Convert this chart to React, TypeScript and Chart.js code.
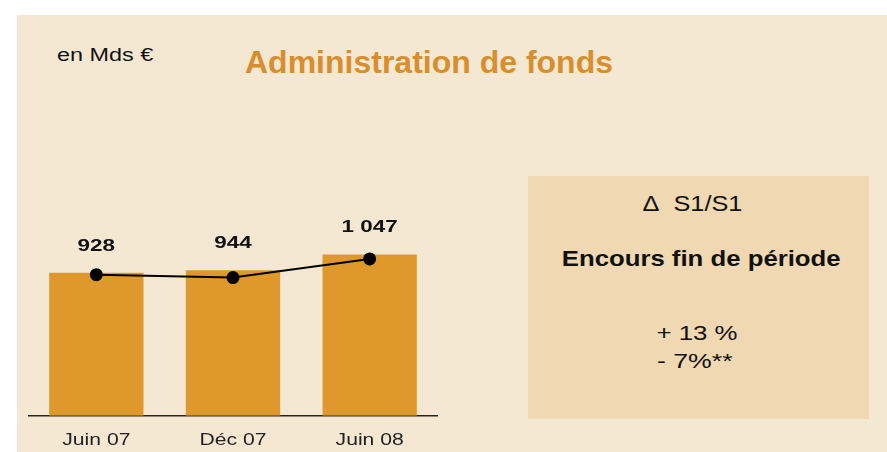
import React, { useEffect, useRef } from "react";
import { Chart, registerables } from "chart.js";

Chart.register(...registerables);

const categories = ["Juin 07", "Déc 07", "Juin 08"];
const barValues = [928, 944, 1047];
const lineValues = [916, 897, 1018];
const yMin = 0;
const yMax = 2050;

const FONT = '"Liberation Sans", Arial, Helvetica, sans-serif';

function fmt(v: number): string {
  const s = String(Math.round(v));
  return s.replace(/\B(?=(\d{3})+(?!\d))/g, " ");
}

const labelPlugin = {
  id: "valueLabels",
  afterDatasetsDraw(chart: any) {
    const ctx = chart.ctx;
    const meta = chart.getDatasetMeta(0);
    meta.data.forEach((el: any, i: number) => {
      ctx.save();
      ctx.font = `bold 17px ${FONT}`;
      ctx.fillStyle = "#111";
      ctx.textAlign = "center";
      ctx.textBaseline = "alphabetic";
      ctx.translate(el.x, el.y - 22);
      ctx.scale(1.32, 1);
      ctx.fillText(fmt(barValues[i]), 0, 0);
      ctx.restore();
    });
  },
  afterDraw(chart: any) {
    const ctx = chart.ctx;
    const xs = chart.scales.x;
    const bottom = chart.chartArea.bottom;
    categories.forEach((c, i) => {
      ctx.save();
      ctx.font = `16px ${FONT}`;
      ctx.fillStyle = "#222";
      ctx.textAlign = "center";
      ctx.textBaseline = "alphabetic";
      ctx.translate(xs.getPixelForValue(i), bottom + 29);
      ctx.scale(1.32, 1);
      ctx.fillText(c, 0, 0);
      ctx.restore();
    });
  },
};

function T({
  children,
  style,
  sx = 1,
  origin = "center",
}: {
  children: React.ReactNode;
  style: React.CSSProperties;
  sx?: number;
  origin?: string;
}) {
  return (
    <div
      style={{
        position: "absolute",
        whiteSpace: "nowrap",
        lineHeight: 1,
        fontFamily: FONT,
        ...style,
      }}
    >
      <span
        style={{
          display: "inline-block",
          transform: `scaleX(${sx})`,
          transformOrigin: origin,
        }}
      >
        {children}
      </span>
    </div>
  );
}

export default function App() {
  const ref = useRef<HTMLCanvasElement | null>(null);

  useEffect(() => {
    if (!ref.current) return;
    const chart = new Chart(ref.current, {
      type: "bar",
      data: {
        labels: categories,
        datasets: [
          {
            type: "bar",
            data: barValues,
            backgroundColor: "#DE982C",
            borderWidth: 0,
            barPercentage: 0.69,
            categoryPercentage: 1,
            order: 1,
          },
          {
            type: "line",
            data: lineValues,
            borderColor: "#000",
            borderWidth: 2,
            pointRadius: 5.5,
            pointBackgroundColor: "#000",
            pointBorderColor: "#000",
            tension: 0,
            order: 0,
          } as any,
        ],
      },
      options: {
        responsive: false,
        maintainAspectRatio: false,
        animation: false,
        layout: { autoPadding: false, padding: { top: 0, left: 0, right: 0, bottom: 36.3 } },
        plugins: {
          legend: { display: false },
          tooltip: { enabled: false },
          title: { display: false },
        },
        scales: {
          x: {
            grid: { display: false, drawTicks: false },
            border: { display: true, color: "#222", width: 1.5 },
            ticks: { display: false },
          },
          y: {
            display: false,
            min: yMin,
            max: yMax,
          },
        },
      },
      plugins: [labelPlugin],
    });
    return () => chart.destroy();
  }, []);

  return (
    <div
      style={{
        position: "fixed",
        left: 0,
        top: 0,
        width: 887,
        height: 452,
        background: "#fff",
        overflow: "hidden",
      }}
    >
      <div
        style={{
          position: "absolute",
          left: 17,
          top: 15,
          width: 870,
          height: 437,
          background: "#F5E8D3",
        }}
      />
      <T style={{ left: 57, top: 46, fontSize: 18, color: "#111" }} sx={1.3} origin="left">
        en Mds €
      </T>
      <T
        style={{ left: 245, top: 45.5, fontSize: 32, fontWeight: "bold", color: "#D88E2C" }}
        origin="left"
      >
        Administration de fonds
      </T>
      <div
        style={{
          position: "absolute",
          left: 528,
          top: 176,
          width: 341,
          height: 243,
          background: "#F0D8B2",
        }}
      />
      <T style={{ left: 542, width: 300, textAlign: "center", top: 193, fontSize: 22, color: "#111" }} sx={1.15}>
        Δ&nbsp;&nbsp;S1/S1
      </T>
      <T
        style={{ left: 501, width: 400, textAlign: "center", top: 248, fontSize: 22, fontWeight: "bold", color: "#111" }}
        sx={1.17}
      >
        Encours fin de période
      </T>
      <T style={{ left: 597, width: 200, textAlign: "center", top: 322, fontSize: 21, color: "#111" }} sx={1.23}>
        + 13 %
      </T>
      <T style={{ left: 595, width: 200, textAlign: "center", top: 350, fontSize: 21, color: "#111" }} sx={1.27}>
        - 7%**
      </T>
      <canvas
        ref={ref}
        width={410}
        height={352}
        style={{ position: "absolute", left: 28, top: 100, width: 410, height: 352 }}
      />
    </div>
  );
}
